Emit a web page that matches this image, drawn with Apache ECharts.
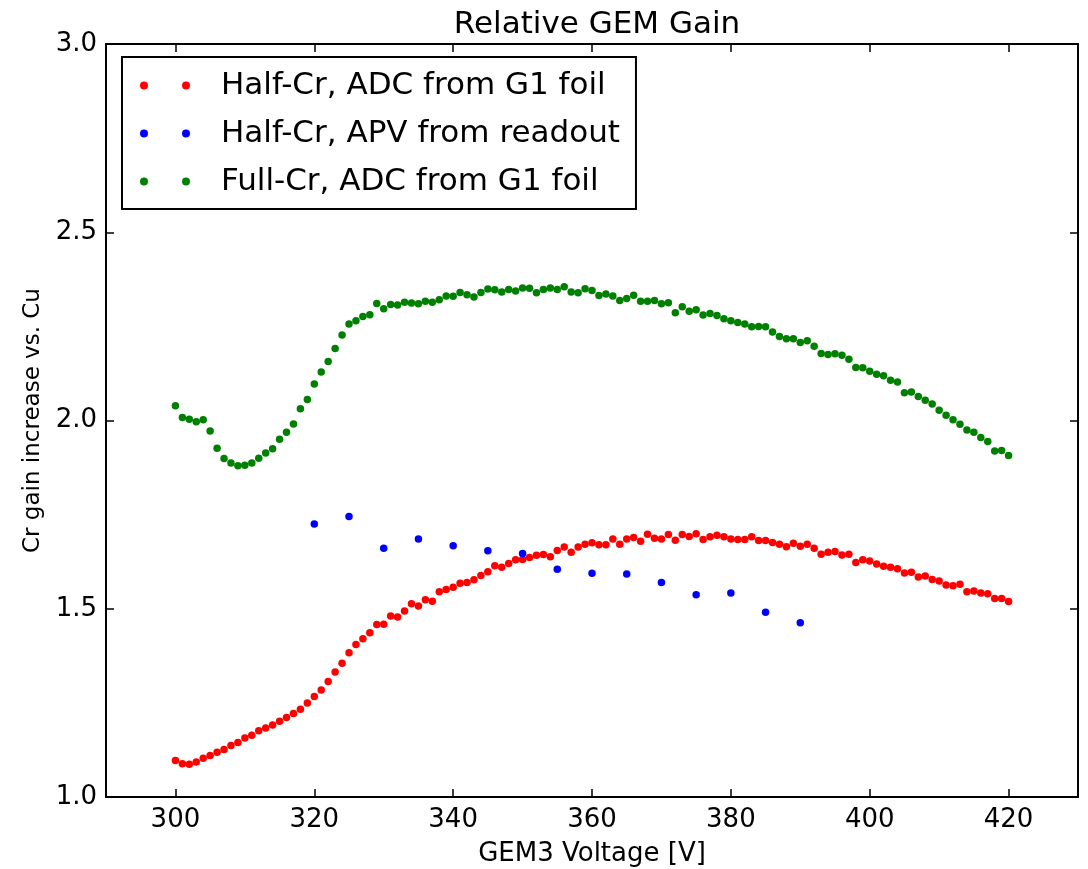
<!DOCTYPE html>
<html>
<head>
<meta charset="utf-8">
<script src="https://cdn.jsdelivr.net/npm/echarts@6/dist/echarts.min.js"></script>
<style>
  html, body { margin: 0; padding: 0; background: #fff; }
  #chart { width: 1088px; height: 869px; }
</style>
</head>
<body>
<div id="chart"></div>
<script>
// GEM3 voltage [V] for the two ADC scans (1 V steps)
var voltages = [
  300, 301, 302, 303, 304, 305, 306, 307, 308, 309,
  310, 311, 312, 313, 314, 315, 316, 317, 318, 319,
  320, 321, 322, 323, 324, 325, 326, 327, 328, 329,
  330, 331, 332, 333, 334, 335, 336, 337, 338, 339,
  340, 341, 342, 343, 344, 345, 346, 347, 348, 349,
  350, 351, 352, 353, 354, 355, 356, 357, 358, 359,
  360, 361, 362, 363, 364, 365, 366, 367, 368, 369,
  370, 371, 372, 373, 374, 375, 376, 377, 378, 379,
  380, 381, 382, 383, 384, 385, 386, 387, 388, 389,
  390, 391, 392, 393, 394, 395, 396, 397, 398, 399,
  400, 401, 402, 403, 404, 405, 406, 407, 408, 409,
  410, 411, 412, 413, 414, 415, 416, 417, 418, 419,
  420
];

var halfCrAdc = [
  1.097, 1.088, 1.087, 1.093, 1.103, 1.110, 1.119, 1.126, 1.137, 1.145,
  1.157, 1.164, 1.176, 1.183, 1.191, 1.201, 1.211, 1.222, 1.233, 1.250,
  1.267, 1.284, 1.307, 1.332, 1.355, 1.383, 1.405, 1.420, 1.436, 1.458,
  1.459, 1.481, 1.478, 1.494, 1.513, 1.507, 1.524, 1.520, 1.545, 1.551,
  1.557, 1.568, 1.570, 1.577, 1.588, 1.598, 1.614, 1.610, 1.620, 1.630,
  1.631, 1.636, 1.642, 1.644, 1.638, 1.655, 1.664, 1.650, 1.664, 1.671,
  1.675, 1.670, 1.670, 1.685, 1.671, 1.685, 1.689, 1.679, 1.698, 1.687,
  1.685, 1.697, 1.682, 1.697, 1.692, 1.699, 1.684, 1.691, 1.695, 1.691,
  1.685, 1.684, 1.684, 1.691, 1.681, 1.681, 1.676, 1.671, 1.665, 1.674,
  1.666, 1.671, 1.661, 1.645, 1.650, 1.652, 1.643, 1.645, 1.623, 1.630,
  1.627, 1.619, 1.613, 1.610, 1.606, 1.595, 1.597, 1.584, 1.587, 1.578,
  1.574, 1.563, 1.561, 1.565, 1.545, 1.547, 1.542, 1.540, 1.527, 1.527,
  1.519
];

var fullCrAdc = [
  2.039, 2.008, 2.003, 1.997, 2.002, 1.972, 1.926, 1.899, 1.887, 1.880,
  1.881, 1.887, 1.900, 1.914, 1.925, 1.950, 1.969, 1.991, 2.031, 2.056,
  2.097, 2.129, 2.157, 2.191, 2.227, 2.256, 2.265, 2.276, 2.281, 2.311,
  2.297, 2.308, 2.307, 2.314, 2.312, 2.310, 2.317, 2.314, 2.321, 2.331,
  2.330, 2.340, 2.334, 2.328, 2.340, 2.349, 2.347, 2.341, 2.348, 2.344,
  2.352, 2.351, 2.339, 2.348, 2.352, 2.348, 2.355, 2.341, 2.339, 2.350,
  2.345, 2.332, 2.336, 2.331, 2.319, 2.324, 2.333, 2.317, 2.317, 2.319,
  2.310, 2.313, 2.286, 2.302, 2.290, 2.294, 2.280, 2.284, 2.279, 2.270,
  2.265, 2.260, 2.256, 2.249, 2.250, 2.249, 2.235, 2.223, 2.217, 2.217,
  2.207, 2.212, 2.197, 2.178, 2.175, 2.177, 2.173, 2.163, 2.141, 2.140,
  2.131, 2.123, 2.119, 2.107, 2.102, 2.074, 2.076, 2.064, 2.054, 2.044,
  2.027, 2.014, 2.002, 1.990, 1.975, 1.969, 1.955, 1.944, 1.919, 1.920,
  1.907
];

// APV readout scan, 5 V steps
var apvVoltages = [320, 325, 330, 335, 340, 345, 350, 355, 360, 365, 370, 375, 380, 385, 390];
var halfCrApv = [1.725, 1.745, 1.661, 1.685, 1.667, 1.654, 1.647, 1.605, 1.594, 1.592, 1.570, 1.537, 1.542, 1.491, 1.463];

var xTicks = [300, 320, 340, 360, 380, 400, 420];
var seriesNames = ["Half-Cr, ADC from G1 foil", "Half-Cr, APV from readout", "Full-Cr, ADC from G1 foil"];

function pairs(xs, ys) {
  return xs.map(function (x, i) { return [x, ys[i]]; });
}

var font = "DejaVu Sans";
var axisLine = { show: true, onZero: false, lineStyle: { color: "#000", width: 2 } };
var tick = { show: true, inside: true, length: 8, lineStyle: { color: "#000", width: 1.5 } };

var myChart = echarts.init(document.getElementById("chart"));

myChart.setOption({
  backgroundColor: "#fff",
  animation: false,
  title: {
    text: "Relative GEM Gain",
    left: 592,
    top: 4,
    textAlign: "center",
    textStyle: { fontFamily: font, fontSize: 31, fontWeight: "normal", color: "#000" }
  },
  legend: {
    orient: "vertical",
    left: 122,
    top: 57,
    padding: [13, 16, 12, 18],
    itemGap: 17,
    itemWidth: 50,
    itemHeight: 8,
    icon: "path://M0,4a4,4 0 1,0 8,0a4,4 0 1,0 -8,0M42,4a4,4 0 1,0 8,0a4,4 0 1,0 -8,0",
    borderColor: "#000",
    borderWidth: 2,
    backgroundColor: "#fff",
    textStyle: { fontFamily: font, fontSize: 31, color: "#000", padding: [0, 0, 0, 26] },
    data: seriesNames
  },
  grid: { left: 106, right: 10, top: 44, bottom: 72, outerBoundsMode: "none" },
  xAxis: [
    {
      type: "value",
      position: "bottom",
      min: 290,
      max: 430,
      name: "GEM3 Voltage [V]",
      nameLocation: "middle",
      nameGap: 44,
      nameTextStyle: { fontFamily: font, fontSize: 26, color: "#000" },
      axisLine: axisLine,
      axisTick: Object.assign({ customValues: xTicks }, tick),
      axisLabel: { customValues: xTicks, fontFamily: font, fontSize: 26, color: "#000", margin: 10 },
      splitLine: { show: false }
    },
    {
      type: "value",
      position: "top",
      min: 290,
      max: 430,
      axisLine: axisLine,
      axisTick: Object.assign({ customValues: xTicks }, tick),
      axisLabel: { show: false },
      splitLine: { show: false }
    }
  ],
  yAxis: [
    {
      type: "value",
      position: "left",
      min: 1,
      max: 3,
      interval: 0.5,
      name: "Cr gain increase vs. Cu",
      nameLocation: "middle",
      nameGap: 60,
      nameTextStyle: { fontFamily: font, fontSize: 23, color: "#000" },
      axisLine: axisLine,
      axisTick: tick,
      axisLabel: {
        fontFamily: font, fontSize: 26, color: "#000", margin: 9,
        formatter: function (v) { return v.toFixed(1); }
      },
      splitLine: { show: false }
    },
    {
      type: "value",
      position: "right",
      min: 1,
      max: 3,
      interval: 0.5,
      axisLine: axisLine,
      axisTick: tick,
      axisLabel: { show: false },
      splitLine: { show: false }
    }
  ],
  series: [
    {
      name: seriesNames[0],
      type: "scatter",
      symbolSize: 7.5,
      itemStyle: { color: "#ff0000", opacity: 1 },
      data: pairs(voltages, halfCrAdc)
    },
    {
      name: seriesNames[1],
      type: "scatter",
      symbolSize: 7.5,
      itemStyle: { color: "#0000ff", opacity: 1 },
      data: pairs(apvVoltages, halfCrApv)
    },
    {
      name: seriesNames[2],
      type: "scatter",
      symbolSize: 7.5,
      itemStyle: { color: "#008000", opacity: 1 },
      data: pairs(voltages, fullCrAdc)
    }
  ]
});
</script>
</body>
</html>
